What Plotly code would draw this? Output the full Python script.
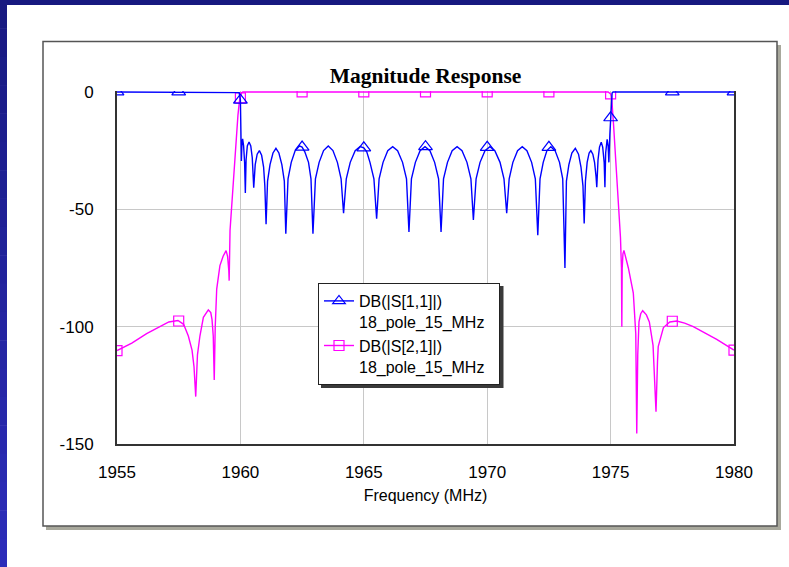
import plotly.graph_objects as go

# ---------------- data ----------------
s11_freq = [
    1955.0, 1957.5, 1959.90, 1959.95, 1960.00, 1960.02, 1960.04, 1960.06, 1960.09, 1960.13,
    1960.17, 1960.20, 1960.23, 1960.28, 1960.35, 1960.42, 1960.48, 1960.54, 1960.60, 1960.68,
    1960.77, 1960.86, 1960.94, 1960.99, 1961.04,
    1961.10, 1961.20, 1961.32, 1961.44, 1961.56, 1961.68, 1961.78, 1961.84,
    1961.93, 1962.06, 1962.22, 1962.39, 1962.50, 1962.61, 1962.76, 1962.86, 1962.94,
    1963.04, 1963.19, 1963.37, 1963.56, 1963.75, 1963.93, 1964.08, 1964.18,
    1964.29, 1964.45, 1964.65, 1964.85, 1965.00, 1965.12, 1965.25, 1965.41, 1965.52,
    1965.62, 1965.78, 1965.97, 1966.17, 1966.37, 1966.57, 1966.73, 1966.83,
    1966.93, 1967.09, 1967.28, 1967.48, 1967.68, 1967.87, 1968.03, 1968.13,
    1968.23, 1968.39, 1968.58, 1968.78, 1968.98, 1969.18, 1969.34, 1969.44,
    1969.55, 1969.71, 1969.91, 1970.11, 1970.31, 1970.52, 1970.68, 1970.79,
    1970.89, 1971.04, 1971.23, 1971.42, 1971.61, 1971.80, 1971.95, 1972.05,
    1972.14, 1972.27, 1972.42, 1972.58, 1972.75, 1972.93, 1973.06, 1973.15,
    1973.21, 1973.31, 1973.43, 1973.57, 1973.70, 1973.80, 1973.88, 1973.93,
    1973.98, 1974.05, 1974.13, 1974.20, 1974.28, 1974.35, 1974.41, 1974.44,
    1974.49, 1974.55, 1974.62, 1974.68, 1974.74, 1974.77,
    1974.80, 1974.86, 1974.90, 1974.93,
    1974.97, 1975.00, 1975.03, 1975.06, 1975.10, 1977.5, 1980.0,
]
s11_db = [
    0, 0, 0, -0.3, -3.5, -12, -29.4, -23, -20, -23,
    -30, -43, -29, -23, -21.3, -23, -28, -40.8, -31, -26.5,
    -25, -27, -32, -40, -56.4,
    -38, -31, -26, -24, -26, -31, -38, -60.4,
    -37, -30, -25, -23, -23.5, -25.5, -30, -37, -60.4,
    -37, -30, -25, -23, -25, -30, -37, -51.7,
    -37, -30, -25, -23.3, -23.8, -25.5, -30, -37, -54,
    -37, -30, -25, -23.3, -25, -30, -37, -59.7,
    -37, -30, -25, -23.3, -25, -30, -37, -59.7,
    -37, -30, -25, -23.3, -25, -30, -37, -54.5,
    -37, -30, -25, -23.3, -25, -30, -37, -51.7,
    -37, -30, -25, -23.3, -25, -30, -37, -61,
    -37, -30, -25, -23.3, -25, -30, -37, -75,
    -38, -31, -26, -24, -26.5, -32, -40, -56,
    -38, -30, -26, -25, -26.5, -30, -36, -40.6,
    -29, -23.5, -21.4, -23.5, -30, -40.6,
    -26, -20.2, -23, -30,
    -18, -11, -4, -0.5, 0, 0, 0,
]

s21_freq = [
    1955.0, 1955.6, 1956.2, 1956.74, 1957.1, 1957.47, 1957.7, 1957.89, 1958.04, 1958.12,
    1958.19, 1958.26, 1958.36, 1958.5, 1958.70, 1958.8, 1958.85, 1958.90, 1958.94, 1958.98,
    1959.04, 1959.17, 1959.30, 1959.42, 1959.48, 1959.53, 1959.545, 1959.58, 1959.70, 1959.80,
    1959.90, 1959.96, 1960.0, 1960.05, 1960.1,
    1974.9, 1975.0, 1975.04, 1975.12, 1975.20, 1975.31, 1975.40, 1975.44, 1975.455, 1975.47,
    1975.50, 1975.54, 1975.72, 1975.92, 1976.02, 1976.06, 1976.10, 1976.15, 1976.22, 1976.30,
    1976.45, 1976.57, 1976.72, 1976.84, 1976.90, 1976.93, 1977.14, 1977.4, 1977.68, 1978.0,
    1978.35, 1978.8, 1979.3, 1980.0,
]
s21_db = [
    -110.2, -107, -103, -100, -98, -97.4, -99, -104, -110, -117,
    -129.8, -112, -104, -96, -92.9, -94, -97, -104, -122.7, -100,
    -84, -74, -70, -67.6, -70, -76, -80.4, -59, -40, -25,
    -10, -4, -2.5, -0.3, 0,
    0, -0.8, -2, -14, -27, -46, -62, -75, -100, -75,
    -69, -67.5, -75, -85.7, -103, -145.5, -112, -98, -94.5, -93.2,
    -95, -98, -108, -136.2, -115, -108.5, -100.4, -98, -97.6, -98.5,
    -100, -102.5, -105.4, -110,
]

marker_freq = [1955, 1957.5, 1960, 1962.5, 1965, 1967.5, 1970, 1972.5, 1975, 1977.5, 1980]
s11_marker_db = [0, 0, -3.5, -23.5, -23.8, -23.3, -23.6, -23.6, -11, 0, 0]
s21_marker_db = [-110.2, -97.6, -2.5, 0, 0, 0, 0, 0, -0.8, -97.7, -110]

x_tick_vals = [1955, 1960, 1965, 1970, 1975, 1980]
x_tick_text = ["1955", "1960", "1965", "1970", "1975", "1980"]
y_tick_vals = [0, -50, -100, -150]
y_tick_text = ["0", "-50", "-100", "-150"]
series_names = ["DB(|S[1,1]|)<br>18_pole_15_MHz\u00a0\u00a0",
                "DB(|S[2,1]|)<br>18_pole_15_MHz\u00a0\u00a0"]
chart_title = "Magnitude Response"
x_title = "Frequency (MHz)"

# ---------------- layout geometry ----------------
W, H = 789, 567
ML, MR, MT, MB = 117, 55, 91, 123
PW = W - ML - MR
PH = H - MT - MB


def fx(px):
    return (px - ML) / PW


def fy(py):
    return (H - MB - py) / PH


BLUE = "#0000ff"
MAG = "#ff00ff"
SANS = "Liberation Sans, Arial, sans-serif"

fig = go.Figure()

# S21 (drawn first, underneath)
fig.add_trace(go.Scatter(x=s21_freq, y=s21_db, mode="lines",
                         line=dict(color=MAG, width=1.4), showlegend=False, hoverinfo="skip"))
fig.add_trace(go.Scatter(x=marker_freq, y=s21_marker_db, mode="markers",
                         marker=dict(symbol="square-open", size=10, color=MAG, line=dict(width=1.2)),
                         showlegend=False, hoverinfo="skip"))
# S11
fig.add_trace(go.Scatter(x=s11_freq, y=s11_db, mode="lines",
                         line=dict(color=BLUE, width=1.4), showlegend=False, hoverinfo="skip"))
fig.add_trace(go.Scatter(x=marker_freq, y=s11_marker_db, mode="markers",
                         marker=dict(symbol="triangle-up-open", size=12, color=BLUE, line=dict(width=1.2)),
                         showlegend=False, hoverinfo="skip"))

# legend entries
fig.add_trace(go.Scatter(x=[None], y=[None], mode="lines+markers", name=series_names[0],
                         legendgroup="a",
                         line=dict(color=BLUE, width=1.4),
                         marker=dict(symbol="triangle-up-open", size=11, color=BLUE, line=dict(width=1.2))))
fig.add_trace(go.Scatter(x=[None], y=[None], mode="lines+markers", name=series_names[1],
                         legendgroup="b",
                         line=dict(color=MAG, width=1.4),
                         marker=dict(symbol="square-open", size=10, color=MAG, line=dict(width=1.2))))

shapes = []
# panel shadow and panel
shapes.append(dict(type="rect", xref="paper", yref="paper", layer="below",
                   x0=fx(46), x1=fx(781), y0=fy(45), y1=fy(530),
                   fillcolor="#a8a89c", line=dict(width=0)))
shapes.append(dict(type="rect", xref="paper", yref="paper", layer="below",
                   x0=fx(43), x1=fx(777), y0=fy(41.5), y1=fy(526),
                   fillcolor="white", line=dict(color="#555555", width=1.5)))
# blue slide border: top bar and left bar with vertical gradient
shapes.append(dict(type="rect", xref="paper", yref="paper", layer="below",
                   x0=fx(0), x1=fx(W), y0=fy(0), y1=fy(5),
                   fillcolor="rgb(23,25,128)", line=dict(width=0)))
nseg = 20
c0 = (23, 25, 128)
c1 = (45, 45, 186)
for i in range(nseg):
    t = (i + 0.5) / nseg
    col = "rgb(%d,%d,%d)" % tuple(round(a + (b - a) * t) for a, b in zip(c0, c1))
    shapes.append(dict(type="rect", xref="paper", yref="paper", layer="below",
                       x0=fx(0), x1=fx(7), y0=fy(H * i / nseg), y1=fy(H * (i + 1) / nseg + 0.5),
                       fillcolor=col, line=dict(width=0)))
# legend shadow
shapes.append(dict(type="rect", xref="paper", yref="paper", layer="above",
                   x0=fx(321), x1=fx(503.5), y0=fy(286), y1=fy(388),
                   fillcolor="#3a3a3a", line=dict(width=0)))

fig.update_layout(
    width=W, height=H,
    margin=dict(l=ML, r=MR, t=MT, b=MB, pad=0),
    paper_bgcolor="white",
    plot_bgcolor="rgba(0,0,0,0)",
    shapes=shapes,
    title=dict(text="<b>%s</b>" % chart_title, x=0.5, xref="paper", xanchor="center",
               y=1 - 75 / H, yref="container", yanchor="middle",
               font=dict(family="Liberation Serif, Times New Roman, serif", size=21.5, color="black")),
    showlegend=True,
    legend=dict(x=fx(318), y=fy(283), xanchor="left", yanchor="top",
                bgcolor="white", bordercolor="#222222", borderwidth=1,
                font=dict(family=SANS, size=16, color="black"),
                valign="top", tracegroupgap=0, itemwidth=30),
    xaxis=dict(range=[1955, 1980], tickvals=x_tick_vals, ticktext=x_tick_text,
               showgrid=True, gridcolor="#c8c8c8", gridwidth=1,
               showline=True, linecolor="#333333", linewidth=2, mirror=False,
               zeroline=False, ticks="", ticklabelstandoff=12,
               tickfont=dict(family=SANS, size=17, color="black"),
               title=dict(text=x_title, font=dict(family=SANS, size=16, color="black"), standoff=8),
               automargin=False, fixedrange=True),
    yaxis=dict(range=[-150, 0.4], tickvals=y_tick_vals, ticktext=y_tick_text,
               showgrid=True, gridcolor="#c8c8c8", gridwidth=1,
               showline=True, linecolor="#333333", linewidth=2, mirror=True,
               zeroline=False, ticks="", ticklabelstandoff=18,
               tickfont=dict(family=SANS, size=17, color="black"),
               automargin=False, fixedrange=True),
)

fig.write_html("out.html")
